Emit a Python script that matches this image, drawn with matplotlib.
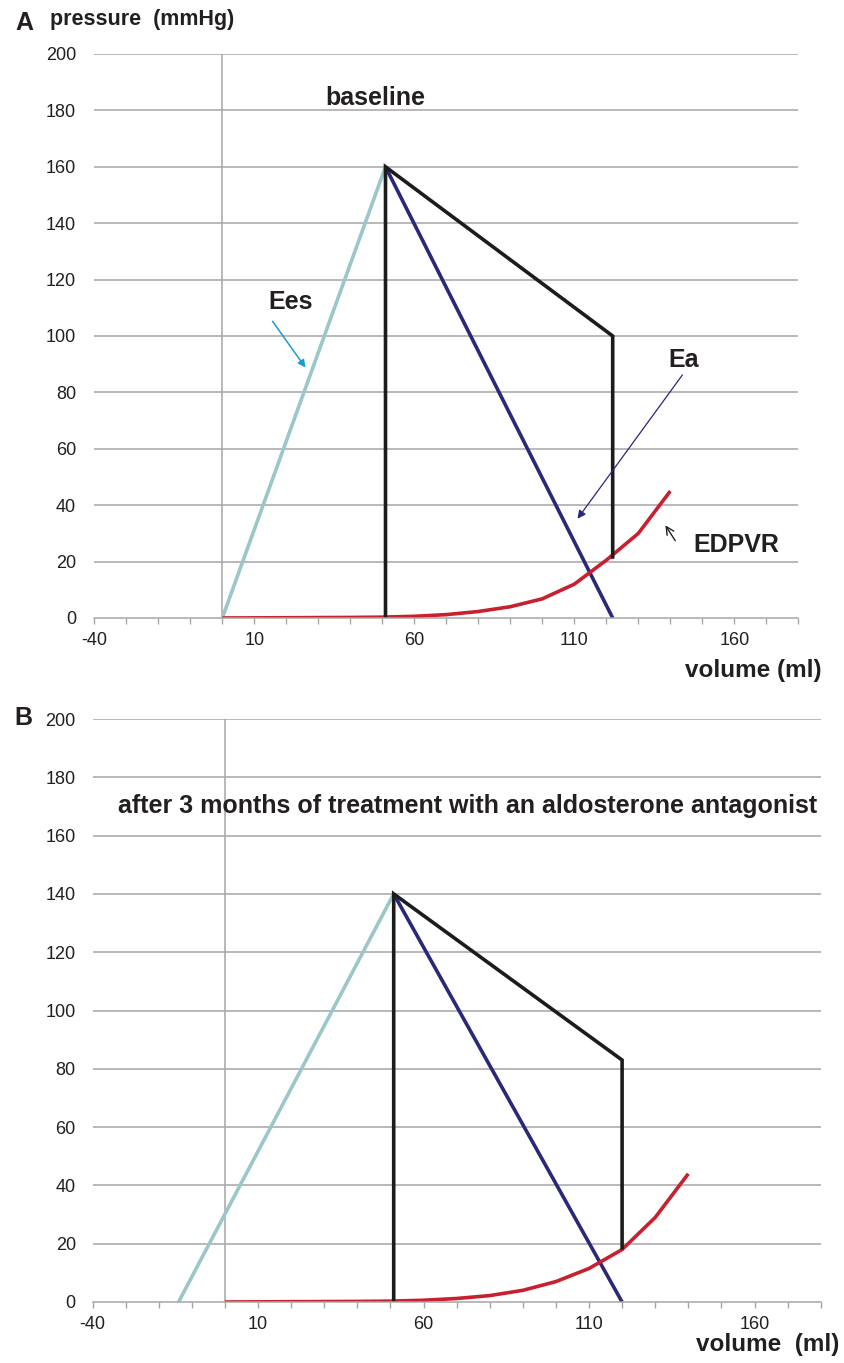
import matplotlib
matplotlib.use('Agg')
import matplotlib.pyplot as plt
from matplotlib.ticker import MultipleLocator, FixedLocator

plt.rcParams['font.family'] = ['Liberation Sans', 'DejaVu Sans']
plt.rcParams['axes.unicode_minus'] = False

# volume grid of the EDPVR curve (ml)
edpvr_vol = [0, 10, 20, 30, 40, 50, 60, 70, 80, 90, 100, 110, 120, 130, 140]

# panel A - baseline
a_edpvr = [0, 0.05, 0.1, 0.15, 0.2, 0.3, 0.6, 1.2, 2.3, 4.0, 6.8, 12, 20.5, 30, 45]
a_ees_vol = [0, 51]
a_ees_p = [0, 160]
a_ea_vol = [51, 122]
a_ea_p = [160, 0]
a_loop_vol = [51, 51, 122, 122]
a_loop_p = [0, 160, 100, 21]

# panel B - after treatment
b_edpvr = [0, 0.05, 0.1, 0.15, 0.2, 0.3, 0.6, 1.2, 2.2, 4.0, 7.0, 11.5, 18, 29, 44]
b_ees_vol = [-14, 51]
b_ees_p = [0, 140]
b_ea_vol = [51, 120]
b_ea_p = [140, 0]
b_loop_vol = [51, 51, 120, 120]
b_loop_p = [0, 140, 83, 18]

xticks = [-40, 10, 60, 110, 160]
yticks = [0, 20, 40, 60, 80, 100, 120, 140, 160, 180, 200]

W, H = 844, 1363
fig = plt.figure(figsize=(W / 100, H / 100), dpi=100)

def box(l, r, top, bot):
    return [l / W, 1 - bot / H, (r - l) / W, (bot - top) / H]

def ftext(x, y, s, **kw):
    fig.text(x / W, 1 - y / H, s, **kw)

grid_c = '#a6a6a6'
txt_c = '#231f20'
c_ees = '#9cc7c8'
c_ea = '#2a2878'
c_loop = '#1c1c1c'
c_edp = '#c8202e'
lw = 2.6

def panel(ax, ees_v, ees_p, ea_v, ea_p, loop_v, loop_p, edp, ypad):
    ax.set_xlim(-40, 180)
    ax.set_ylim(0, 200)
    for y in yticks[1:]:
        ax.axhline(y, color=grid_c, lw=1.1, zorder=0)
    ax.plot([0, 0], [0, 200], color=grid_c, lw=1.1, zorder=0)
    for s in ['top', 'right', 'left']:
        ax.spines[s].set_visible(False)
    ax.spines['bottom'].set_color(grid_c)
    ax.spines['bottom'].set_linewidth(1.1)
    ax.xaxis.set_major_locator(FixedLocator(xticks))
    ax.xaxis.set_minor_locator(MultipleLocator(10))
    ax.tick_params(axis='x', which='both', direction='out', length=4,
                   width=1, color=grid_c, labelsize=13, pad=6,
                   labelcolor=txt_c)
    ax.set_yticks(yticks)
    ax.tick_params(axis='y', length=0, labelsize=13, pad=ypad,
                   labelcolor=txt_c)
    ax.patch.set_visible(False)
    ax.plot(ees_v, ees_p, color=c_ees, lw=lw, solid_capstyle='butt')
    ax.plot(ea_v, ea_p, color=c_ea, lw=lw, solid_capstyle='butt')
    ax.plot(edpvr_vol, edp, color=c_edp, lw=lw, solid_capstyle='butt')
    ax.plot(loop_v, loop_p, color=c_loop, lw=lw, solid_capstyle='butt',
            solid_joinstyle='miter')

axA = fig.add_axes(box(94.3, 798.3, 54, 618))
panel(axA, a_ees_vol, a_ees_p, a_ea_vol, a_ea_p, a_loop_vol, a_loop_p,
      a_edpvr, 13)

axB = fig.add_axes(box(92.5, 820.7, 719, 1302))
panel(axB, b_ees_vol, b_ees_p, b_ea_vol, b_ea_p, b_loop_vol, b_loop_p,
      b_edpvr, 12)

# annotations panel A (data coords)
axA.text(21.2, 112, 'Ees', fontsize=18, fontweight='bold', color=txt_c,
         ha='center', va='center')
axA.annotate('', xy=(26.5, 88), xytext=(15.2, 106),
             arrowprops=dict(arrowstyle='-|>', color='#1b9ad6', lw=1.1,
                             mutation_scale=11))
axA.text(144.3, 91.5, 'Ea', fontsize=18, fontweight='bold', color=txt_c,
         ha='center', va='center')
axA.annotate('', xy=(110.5, 34.4), xytext=(144.3, 87),
             arrowprops=dict(arrowstyle='-|>', color=c_ea, lw=0.9,
                             mutation_scale=12))
axA.text(160.5, 25.8, 'EDPVR', fontsize=18, fontweight='bold', color=txt_c,
         ha='center', va='center')
axA.annotate('', xy=(138, 33.7), xytext=(142, 26.6),
             arrowprops=dict(arrowstyle='->', color=txt_c, lw=1.0,
                             mutation_scale=14))

ftext(375, 98, 'baseline', fontsize=18, fontweight='bold', color=txt_c,
      ha='center', va='center')
ftext(468, 806, 'after 3 months of treatment with an aldosterone antagonist',
      fontsize=18, fontweight='bold', color=txt_c, ha='center', va='center')

ftext(24, 23, 'A', fontsize=18, fontweight='bold', color=txt_c,
      ha='center', va='center')
ftext(50, 20, 'pressure  (mmHg)', fontsize=15.5, fontweight='bold',
      color=txt_c, ha='left', va='center')
ftext(822, 671, 'volume (ml)', fontsize=17.5, fontweight='bold', color=txt_c,
      ha='right', va='center')
ftext(23, 718, 'B', fontsize=18, fontweight='bold', color=txt_c,
      ha='center', va='center')
ftext(839, 1345, 'volume  (ml)', fontsize=17.5, fontweight='bold',
      color=txt_c, ha='right', va='center')

fig.savefig('out.png', dpi=100)
